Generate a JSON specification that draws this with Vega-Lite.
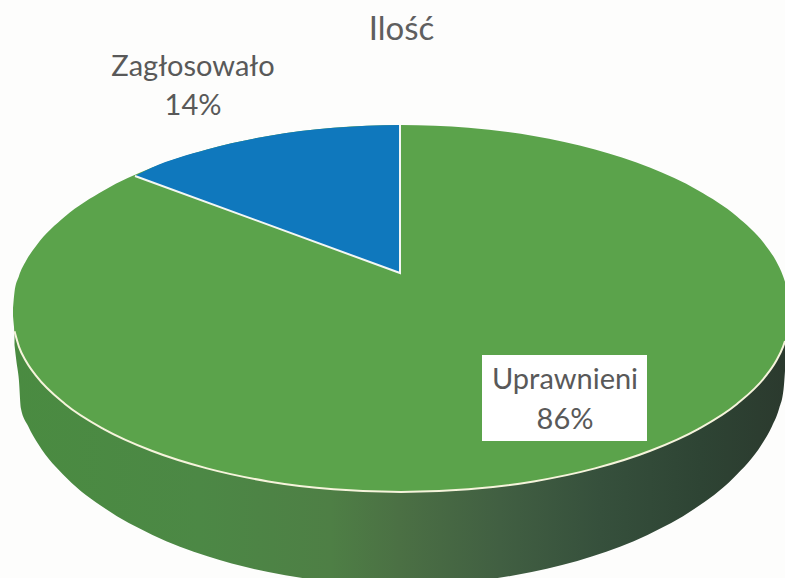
{"$schema":"https://vega.github.io/schema/vega-lite/v6.json","width":785,"height":578,"padding":0,"autosize":"none","background":"#fdfdfc","view":{"stroke":null},"title":{"text":"Ilość","anchor":"middle","fontSize":33,"font":"Lato","fontWeight":"normal","color":"#5f5f5f","offset":-47,"dx":9},"datasets":{"top":[{"x":13,"y":308,"y2":316},{"x":14.5,"y":292,"y2":331.3},{"x":18.9,"y":276.2,"y2":346.6},{"x":26.2,"y":260.6,"y2":361.5},{"x":36.4,"y":245.4,"y2":376.2},{"x":65,"y":216.5,"y2":404},{"x":103.8,"y":190.4,"y2":429.1},{"x":151.6,"y":167.8,"y2":450.8},{"x":207,"y":149.5,"y2":468.4},{"x":268.3,"y":136,"y2":481.4},{"x":333.6,"y":127.8,"y2":489.3},{"x":401,"y":125,"y2":492},{"x":468.4,"y":127.8,"y2":489.3},{"x":533.7,"y":136,"y2":481.4},{"x":595,"y":149.5,"y2":468.4},{"x":650.4,"y":167.8,"y2":450.8},{"x":698.2,"y":190.4,"y2":429.1},{"x":737,"y":216.5,"y2":404},{"x":765.6,"y":245.4,"y2":376.2},{"x":775.8,"y":260.6,"y2":361.5},{"x":783.1,"y":276.2,"y2":346.6},{"x":785,"y":281.8,"y2":341}],"side":[{"x":14.5,"y":325,"y2":345},{"x":16.5,"y":332,"y2":362},{"x":18.9,"y":340,"y2":380},{"x":20.8,"y":344,"y2":408},{"x":28.1,"y":355,"y2":426},{"x":38.2,"y":371,"y2":444},{"x":66.6,"y":399,"y2":478},{"x":105.1,"y":424,"y2":508.6},{"x":152.5,"y":445,"y2":534.9},{"x":207.5,"y":462,"y2":556.3},{"x":268.3,"y":475,"y2":572.1},{"x":333.2,"y":483,"y2":581.7},{"x":400,"y":486,"y2":585},{"x":466.8,"y":483,"y2":581.7},{"x":531.7,"y":475,"y2":572.1},{"x":592.5,"y":462,"y2":556.3},{"x":647.5,"y":445,"y2":534.9},{"x":694.9,"y":424,"y2":508.6},{"x":733.4,"y":399,"y2":478},{"x":761.8,"y":371,"y2":444.2},{"x":771.9,"y":355,"y2":426.4},{"x":779.2,"y":340,"y2":408.2},{"x":783.5,"y":332,"y2":389.7},{"x":785,"y":330,"y2":371}],"wedge":[{"x":135,"y":176,"y2":176},{"x":151.6,"y":167.8,"y2":182.1},{"x":207,"y":149.5,"y2":202.4},{"x":268.3,"y":136,"y2":224.9},{"x":333.6,"y":127.8,"y2":248.8},{"x":400,"y":125,"y2":273}],"edge":[{"step":1,"x":135,"y":176},{"step":2,"x":400,"y":273},{"step":3,"x":400,"y":125}],"box":[{"x":482,"x2":647,"y":355,"y2":441}],"labels":[{"t":"Zagłosowało","x":193,"y":67},{"t":"14%","x":193,"y":106},{"t":"Uprawnieni","x":565,"y":380},{"t":"86%","x":565,"y":420}]},"encoding":{"x":{"field":"x","type":"quantitative","axis":null,"scale":{"domain":[0,785],"nice":false,"zero":false}},"y":{"field":"y","type":"quantitative","axis":null,"scale":{"domain":[578,0],"nice":false,"zero":false}}},"layer":[{"data":{"name":"side"},"mark":{"type":"area","clip":true,"interpolate":"monotone","fill":{"gradient":"linear","x1":0,"x2":1,"y1":0,"y2":0,"stops":[{"offset":0,"color":"#4a8b41"},{"offset":0.24,"color":"#4c8845"},{"offset":0.41,"color":"#4e7f45"},{"offset":0.5,"color":"#4b7044"},{"offset":0.63,"color":"#415f42"},{"offset":0.76,"color":"#36503c"},{"offset":0.89,"color":"#2e4434"},{"offset":1,"color":"#2b3a2e"}]}},"encoding":{"y2":{"field":"y2"}}},{"data":{"name":"top"},"mark":{"type":"area","clip":true,"interpolate":"monotone","color":"#5ba34b"},"encoding":{"y2":{"field":"y2"}}},{"data":{"name":"top"},"mark":{"type":"line","clip":true,"interpolate":"monotone","color":"#f6f4dc","strokeWidth":2},"transform":[{"filter":"datum.x >= 14"}],"encoding":{"y":{"field":"y2","type":"quantitative"}}},{"data":{"name":"wedge"},"mark":{"type":"area","clip":true,"interpolate":"monotone","color":"#0f78bd"},"encoding":{"y2":{"field":"y2"}}},{"data":{"name":"edge"},"mark":{"type":"line","color":"#f4f7f4","strokeWidth":2},"encoding":{"order":{"field":"step"}}},{"data":{"name":"box"},"mark":{"type":"rect","color":"#ffffff"},"encoding":{"x2":{"field":"x2"},"y2":{"field":"y2"}}},{"data":{"name":"labels"},"mark":{"type":"text","font":"Lato","fontSize":29,"color":"#595959","align":"center","baseline":"middle"},"encoding":{"text":{"field":"t"}}}]}
